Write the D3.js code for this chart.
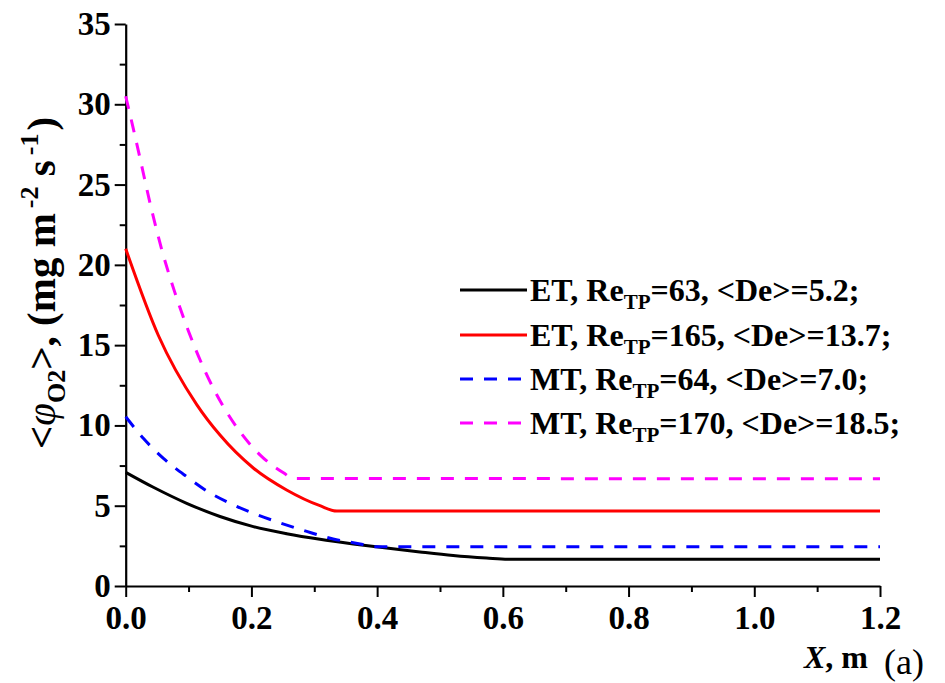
<!DOCTYPE html>
<html>
<head>
<meta charset="utf-8">
<script src="https://cdn.jsdelivr.net/npm/d3@7/dist/d3.min.js"></script>
<style>
  html, body { margin: 0; padding: 0; background: #fff; }
  svg { display: block; }
  text { font-family: "Liberation Serif", "Times New Roman", serif; fill: #000; }
</style>
</head>
<body>
<svg id="chart" width="945" height="683"></svg>
<script>
// Distance along the channel, m, and mean oxygen flux, mg m^-2 s^-1
const etLowX  = [0, 0.044, 0.097, 0.150, 0.203, 0.256, 0.309, 0.362, 0.415, 0.468, 0.521, 0.574, 0.608, 1.2];
const etLowY  = [7.08, 6.15, 5.15, 4.33, 3.70, 3.26, 2.91, 2.62, 2.36, 2.12, 1.90, 1.74, 1.66, 1.66];

const etHighX = [0, 0.052, 0.113, 0.150, 0.203, 0.256, 0.309, 0.336, 1.2];
const etHighY = [21.0, 15.6, 11.3, 9.40, 7.35, 5.98, 5.00, 4.67, 4.67];

const mtLowX  = [0, 0.028, 0.060, 0.097, 0.134, 0.166, 0.203, 0.245, 0.288, 0.330, 0.373, 0.394, 1.2];
const mtLowY  = [10.54, 9.20, 7.95, 6.81, 5.80, 5.15, 4.53, 3.94, 3.40, 2.93, 2.62, 2.45, 2.45];

const mtHighX = [0, 0.012, 0.023, 0.039, 0.057, 0.078, 0.0996, 0.126, 0.155, 0.182, 0.214, 0.251, 0.2665, 1.2];
const mtHighY = [30.5, 28.5, 26.6, 23.8, 21.0, 18.3, 15.9, 13.4, 11.2, 9.60, 8.15, 7.05, 6.70, 6.68];

const seriesNames = ["ET", "ET", "MT", "MT"];
const reynolds    = ["63", "165", "64", "170"];
const deanMean    = ["5.2", "13.7", "7.0", "18.5"];
const seriesColors = ["#000000", "#ff0000", "#0000ff", "#ff00ff"];
const seriesDashed = [false, false, true, true];

const xTicks = [0, 0.2, 0.4, 0.6, 0.8, 1.0, 1.2];
const yTicks = [0, 5, 10, 15, 20, 25, 30, 35];

const series = [
  { x: etLowX,  y: etLowY },
  { x: etHighX, y: etHighY },
  { x: mtLowX,  y: mtLowY },
  { x: mtHighX, y: mtHighY }
].map((s, i) => ({
  points: s.x.map((xv, j) => [xv, s.y[j]]),
  name: seriesNames[i], re: reynolds[i], de: deanMean[i],
  color: seriesColors[i], dashed: seriesDashed[i]
}));

const svg = d3.select("#chart");
const plot = { left: 125.7, right: 880, top: 24, bottom: 586 };

const x = d3.scaleLinear().domain([0, 1.2]).range([plot.left, plot.right]);
const y = d3.scaleLinear().domain([0, 35]).range([plot.bottom, plot.top]);

// Minor ticks first, then major axes on top
const xMinor = d3.range(0.1, 1.2, 0.2);
const yMinor = d3.range(2.5, 35, 5);

svg.append("g")
  .attr("transform", `translate(0,${plot.bottom})`)
  .call(d3.axisBottom(x).tickValues(xMinor).tickSize(6).tickFormat(""))
  .call(g => g.select(".domain").remove())
  .call(g => g.selectAll("line").attr("stroke-width", 2));

svg.append("g")
  .attr("transform", `translate(${plot.left},0)`)
  .call(d3.axisLeft(y).tickValues(yMinor).tickSize(6).tickFormat(""))
  .call(g => g.select(".domain").remove())
  .call(g => g.selectAll("line").attr("stroke-width", 2));

const xAxis = svg.append("g")
  .attr("transform", `translate(0,${plot.bottom})`)
  .call(d3.axisBottom(x).tickValues(xTicks).tickSize(11).tickSizeOuter(0).tickPadding(9)
        .tickFormat(d3.format(".1f")));

const yAxis = svg.append("g")
  .attr("transform", `translate(${plot.left},0)`)
  .call(d3.axisLeft(y).tickValues(yTicks).tickSize(11).tickSizeOuter(0).tickPadding(4)
        .tickFormat(d3.format("d")));

[xAxis, yAxis].forEach(g => {
  g.select(".domain").attr("stroke-width", 2.2);
  g.selectAll(".tick line").attr("stroke-width", 2);
  g.selectAll(".tick text")
    .attr("font-family", "Liberation Serif, serif")
    .attr("font-weight", "bold")
    .attr("font-size", 33)
    .attr("fill", "#000");
});

// Curves
const line = d3.line()
  .x(d => x(d[0]))
  .y(d => y(d[1]))
  .curve(d3.curveMonotoneX);

svg.append("g").selectAll("path")
  .data(series)
  .join("path")
  .attr("d", d => line(d.points))
  .attr("fill", "none")
  .attr("stroke", d => d.color)
  .attr("stroke-width", 3)
  .attr("stroke-dasharray", d => d.dashed ? "13,11" : null);

// Legend
const legendRows = [290, 335, 379, 423];
const legend = svg.append("g");
series.forEach((s, i) => {
  const ly = legendRows[i];
  legend.append("line")
    .attr("x1", 460).attr("x2", 527)
    .attr("y1", ly).attr("y2", ly)
    .attr("stroke", s.color)
    .attr("stroke-width", 3)
    .attr("stroke-dasharray", s.dashed ? "13,11" : null);
  const t = legend.append("text")
    .attr("x", 530).attr("y", ly + 11)
    .attr("font-weight", "bold")
    .attr("font-size", 32);
  t.append("tspan").text(`${s.name}, Re`);
  t.append("tspan").attr("font-size", 21).attr("dy", 8).text("TP");
  t.append("tspan").attr("dy", -8).text(`=${s.re}, <De>=${s.de};`);
});

// Axis titles
const yTitle = svg.append("text")
  .attr("transform", "translate(55,283) rotate(-90)")
  .attr("text-anchor", "middle")
  .attr("font-weight", "bold")
  .attr("font-size", 41);
yTitle.append("tspan").text("<");
yTitle.append("tspan").attr("font-style", "italic").attr("font-weight", "normal").text("φ");
yTitle.append("tspan").attr("font-size", 26).attr("dy", 10).text("O2");
yTitle.append("tspan").attr("dy", -10).text(">, (mg m");
yTitle.append("tspan").attr("font-size", 26).attr("dx", 5).attr("dy", -17).text("-2");
yTitle.append("tspan").attr("dy", 17).text(" s");
yTitle.append("tspan").attr("font-size", 26).attr("dx", 5).attr("dy", -17).text("-1");
yTitle.append("tspan").attr("dx", 3).attr("dy", 17).text(")");

const xTitle = svg.append("text")
  .attr("x", 868).attr("y", 668)
  .attr("text-anchor", "end")
  .attr("font-weight", "bold")
  .attr("font-size", 32);
xTitle.append("tspan").attr("font-style", "italic").text("X");
xTitle.append("tspan").text(", m");

svg.append("text")
  .attr("x", 884).attr("y", 674)
  .attr("font-size", 36)
  .text("(a)");
</script>
</body>
</html>
